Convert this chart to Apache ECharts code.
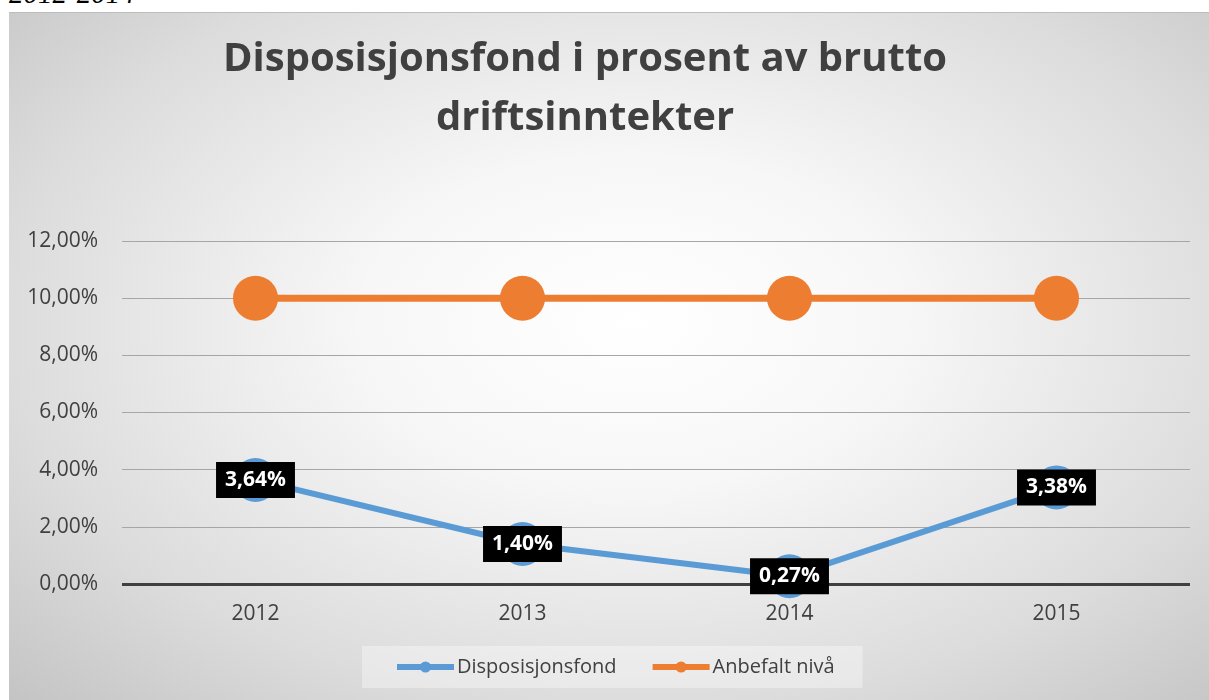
<!DOCTYPE html>
<html>
<head>
<meta charset="utf-8">
<script src="https://cdn.jsdelivr.net/npm/echarts@6/dist/echarts.min.js"></script>
<style>
html,body{margin:0;padding:0;background:#fff;width:1209px;height:700px;overflow:hidden;}
#cap{position:absolute;left:9px;top:-23px;font-family:"Liberation Serif","DejaVu Serif",serif;font-style:italic;font-size:29px;color:#000;}
#chart{position:absolute;left:9px;top:12px;width:1200px;height:688px;
background:radial-gradient(ellipse 75% 80% at 52% 45%, #ffffff 0%, #f7f7f7 30%, #dcdcdc 70%, #c2c2c2 100%);
border-top:1px solid #bdbdbd;box-sizing:border-box;}
</style>
</head>
<body>
<div id="cap">2012-2014</div>
<div id="chart"></div>
<script>
const titleText = 'Disposisjonsfond i prosent av brutto\ndriftsinntekter';
const categories = ['2012', '2013', '2014', '2015'];
const seriesNames = ['Disposisjonsfond', 'Anbefalt nivå'];
const disposisjonsfond = [3.64, 1.40, 0.27, 3.38];
const anbefaltNiva = [10, 10, 10, 10];
const yMin = 0, yMax = 12, yStep = 2;

const fmt = v => v.toFixed(2).replace('.', ',') + '%';
const font = '"Open Sans","Noto Sans",sans-serif';

const chart = echarts.init(document.getElementById('chart'), null, {renderer: 'canvas'});
chart.setOption({
  backgroundColor: 'transparent',
  animation: false,
  title: {
    text: titleText,
    left: 571,
    top: 12,
    textAlign: 'center',
    textStyle: {fontFamily: font, fontWeight: 'bold', fontSize: 40, color: '#404040', lineHeight: 59}
  },
  legend: {
    data: seriesNames,
    left: 353,
    top: 633,
    padding: [11, 28, 11, 32],
    itemGap: 33,
    itemWidth: 57,
    itemHeight: 14,
    lineStyle: {width: 6},
    backgroundColor: 'rgba(255,255,255,0.35)',
    textStyle: {fontFamily: font, fontSize: 20, color: '#404040', padding: [0, 0, 0, -2]}
  },
  grid: {left: 113, right: 19, top: 228, bottom: 116, containLabel: false},
  xAxis: {
    type: 'category',
    data: categories,
    boundaryGap: true,
    axisLine: {show: false},
    axisTick: {show: false},
    axisLabel: {fontFamily: font, fontSize: 21, color: '#404040', margin: 20}
  },
  yAxis: {
    type: 'value',
    min: yMin, max: yMax, interval: yStep,
    axisLine: {show: false},
    axisTick: {show: false},
    splitLine: {lineStyle: {color: '#a6a6a6', width: 1}},
    axisLabel: {fontFamily: font, fontSize: 21, color: '#404040', margin: 24, formatter: v => fmt(v)}
  },
  series: [
    {
      name: seriesNames[0],
      type: 'line',
      data: disposisjonsfond,
      color: '#5B9BD5',
      symbol: 'circle',
      symbolSize: 44,
      lineStyle: {width: 6, color: '#5B9BD5'},
      itemStyle: {color: '#5B9BD5'},
      z: 3,
      markLine: {
        silent: true,
        symbol: 'none',
        label: {show: false},
        lineStyle: {color: '#404040', width: 3, type: 'solid'},
        data: [{yAxis: 0}],
        z: 2
      },
      label: {
        show: true,
        position: 'inside',
        formatter: p => fmt(p.value),
        fontFamily: font,
        fontWeight: 'bold',
        fontSize: 21,
        color: '#ffffff',
        backgroundColor: '#000000',
        padding: [8, 9, 7, 9]
      }
    },
    {
      name: seriesNames[1],
      type: 'line',
      data: anbefaltNiva,
      color: '#ED7D31',
      symbol: 'circle',
      symbolSize: 45,
      lineStyle: {width: 7, color: '#ED7D31'},
      itemStyle: {color: '#ED7D31'},
      z: 3
    }
  ]
});
</script>
</body>
</html>
